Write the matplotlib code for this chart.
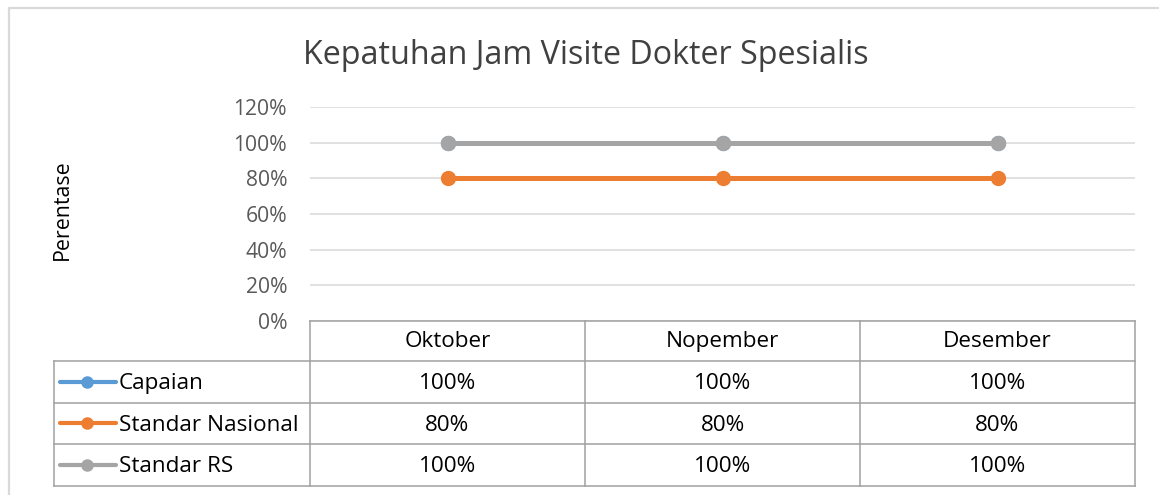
import matplotlib
matplotlib.use('Agg')
import matplotlib.pyplot as plt

# ---- data ----
categories = ['Oktober', 'Nopember', 'Desember']
series_names = ['Capaian', 'Standar Nasional', 'Standar RS']
capaian = [1.0, 1.0, 1.0]
standar_nasional = [0.8, 0.8, 0.8]
standar_rs = [1.0, 1.0, 1.0]
yticks = [0.0, 0.2, 0.4, 0.6, 0.8, 1.0, 1.2]
ytick_labels = ['0%', '20%', '40%', '60%', '80%', '100%', '120%']
title = 'Kepatuhan Jam Visite Dokter Spesialis'
ylabel = 'Perentase'

series_values = [capaian, standar_nasional, standar_rs]
colors = ['#5B9BD5', '#ED7D31', '#A5A5A5']

plt.rcParams['font.family'] = ['Open Sans', 'DejaVu Sans']

W, H = 1159, 495
fig = plt.figure(figsize=(W / 100, H / 100), dpi=100)

# plot area in pixels
L, R, T, B = 310, 1135, 107, 321
ax = fig.add_axes([L / W, 1 - B / H, (R - L) / W, (B - T) / H])
ax.set_xlim(0, len(categories))
ax.set_ylim(0, 1.2)
ax.set_yticks(yticks)
ax.set_yticklabels(ytick_labels)
ax.set_xticks([])
for s in ax.spines.values():
    s.set_visible(False)
ax.tick_params(axis='y', length=0, pad=16.5, labelsize=15.2, labelcolor='#595959')
ax.grid(axis='y', color='#D9D9D9', linewidth=1.1)
ax.set_axisbelow(True)

xs = [i + 0.5 for i in range(len(categories))]
for vals, col in zip(series_values, colors):
    ax.plot(xs, vals, color=col, linewidth=3.6, marker='o', markersize=10,
            solid_capstyle='round', clip_on=False, zorder=3)

# overlay in pixel coords
ov = fig.add_axes([0, 0, 1, 1])
ov.set_xlim(0, W)
ov.set_ylim(H, 0)
ov.axis('off')

# chart border
ov.plot([8.5, 8.5, W + 5], [H + 5, 7.5, 7.5], color='#D9D9D9', linewidth=1.6)

# title and y label
ov.text(586, 63.5, title, ha='center', va='baseline', fontsize=23.2, color='#404040')
ov.text(62, 210, ylabel, rotation=90, ha='center', va='center', fontsize=15.4, color='#000000')

# data table
tc = '#A0A0A0'
tw = 1.1
fs = 16.2
col_w = (R - L) / len(categories)
row_tops = [B, 361, 402.5, 444]
row_bot = 485.5
leg_left = 54
ov.plot([L, R], [B, B], color=tc, linewidth=tw)
for y in row_tops[1:] + [row_bot]:
    ov.plot([leg_left, R], [y, y], color=tc, linewidth=tw)
for i in range(len(categories) + 1):
    x = L + i * col_w
    ov.plot([x, x], [B, row_bot], color=tc, linewidth=tw)
ov.plot([leg_left, leg_left], [row_tops[1], row_bot], color=tc, linewidth=tw)

for i, c in enumerate(categories):
    ov.text(L + (i + 0.5) * col_w, 347, c, ha='center', va='baseline', fontsize=fs, color='#000000')

row_edges = row_tops[1:] + [row_bot]
for r, (name, vals, col) in enumerate(zip(series_names, series_values, colors)):
    yc = (row_edges[r] + row_edges[r + 1]) / 2
    ov.plot([60, 116], [yc, yc], color=col, linewidth=3.0, solid_capstyle='round')
    ov.plot([87], [yc], marker='o', color=col, markersize=8)
    ov.text(119, yc + 7.5, name, ha='left', va='baseline', fontsize=fs, color='#000000')
    for i, v in enumerate(vals):
        ov.text(L + (i + 0.5) * col_w, yc + 7.5, f'{v * 100:.0f}%', ha='center', va='baseline',
                fontsize=fs, color='#000000')

fig.savefig('out.png', dpi=100, facecolor='white')
